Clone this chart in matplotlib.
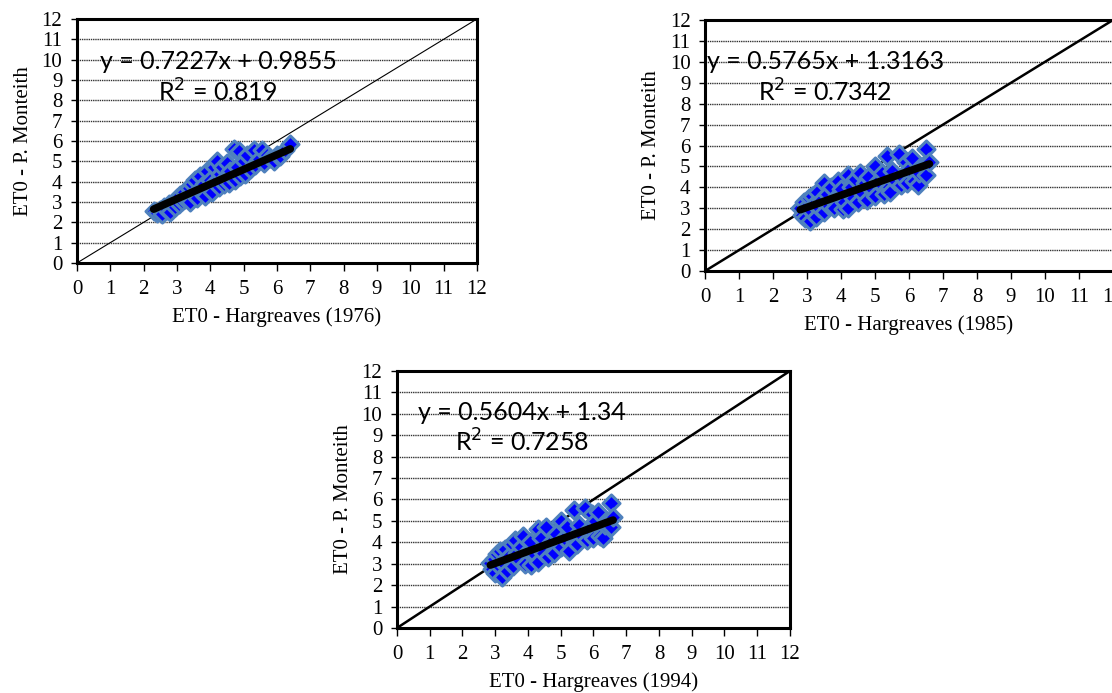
import numpy as np
import matplotlib.pyplot as plt

# ET0 points (Hargreaves x, Penman-Monteith y)
x_1976 = [2.3, 2.4, 2.5, 2.55, 2.6, 2.7, 2.75, 2.8, 2.9, 2.95, 3.0, 3.05, 3.1, 3.15, 3.2, 3.25,
          3.3, 3.35, 3.4, 3.45, 3.5, 3.55, 3.6, 3.65, 3.7, 3.75, 3.8, 3.85, 3.9, 3.95, 4.0, 4.05,
          4.1, 4.15, 4.2, 4.25, 4.3, 4.35, 4.4, 4.45, 4.5, 4.55, 4.6, 4.7, 4.75, 4.8, 4.85, 4.9,
          5.0, 5.05, 5.1, 5.2, 5.3, 5.35, 5.45, 5.55, 5.6, 5.7, 5.8, 5.9, 6.0, 6.1, 6.25, 6.4]
y_1976 = [2.55, 2.45, 2.6, 2.4, 2.75, 2.6, 2.9, 2.5, 3.0, 2.75, 3.2, 2.9, 3.35, 3.05, 3.5, 3.15,
          3.3, 3.7, 3.0, 3.9, 3.4, 4.1, 3.2, 3.6, 4.3, 3.5, 3.9, 3.3, 4.5, 3.7, 4.1, 3.5,
          4.7, 4.0, 5.0, 3.75, 4.4, 4.7, 3.9, 4.2, 4.9, 3.95, 4.5, 5.6, 4.1, 4.7, 5.5, 4.3,
          5.0, 4.4, 5.3, 4.6, 5.55, 4.8, 5.1, 5.55, 4.9, 5.3, 5.15, 5.0, 5.3, 5.25, 5.55, 5.85]

x_1985 = [2.8, 2.85, 2.9, 2.95, 3.0, 3.05, 3.1, 3.1, 3.15, 3.2, 3.25, 3.3, 3.35, 3.4, 3.5, 3.5,
          3.6, 3.65, 3.7, 3.75, 3.8, 3.9, 3.95, 4.0, 4.05, 4.1, 4.2, 4.2, 4.3, 4.35, 4.4, 4.5,
          4.55, 4.6, 4.7, 4.75, 4.8, 4.9, 5.0, 5.0, 5.1, 5.2, 5.25, 5.35, 5.4, 5.45, 5.5, 5.6,
          5.7, 5.75, 5.8, 5.9, 5.95, 6.0, 6.1, 6.15, 6.25, 6.3, 6.4, 6.5, 6.5, 6.6]
y_1985 = [3.0, 2.7, 3.3, 2.55, 3.1, 3.5, 2.4, 2.9, 3.6, 3.2, 2.6, 3.8, 3.0, 3.4, 4.2, 2.8,
          3.7, 3.1, 4.0, 3.4, 3.0, 4.3, 3.6, 3.9, 2.95, 3.3, 4.6, 3.0, 4.0, 3.5, 4.4, 3.3,
          4.7, 3.8, 4.2, 3.4, 4.5, 3.9, 5.0, 3.6, 4.3, 4.7, 3.7, 5.5, 4.0, 3.8, 4.8, 4.3,
          5.6, 4.1, 4.5, 5.2, 4.2, 4.9, 5.4, 4.3, 4.1, 4.7, 5.0, 5.85, 4.6, 5.2]

x_1994 = [2.85, 2.9, 2.95, 3.0, 3.05, 3.1, 3.15, 3.2, 3.2, 3.3, 3.35, 3.4, 3.5, 3.55, 3.6, 3.65,
          3.7, 3.8, 3.85, 3.9, 4.0, 4.05, 4.1, 4.2, 4.3, 4.3, 4.4, 4.45, 4.55, 4.6, 4.7, 4.8,
          4.85, 5.0, 5.0, 5.1, 5.2, 5.25, 5.4, 5.45, 5.5, 5.55, 5.65, 5.75, 5.8, 5.85, 5.95, 6.0,
          6.05, 6.15, 6.2, 6.3, 6.35, 6.45, 6.55, 6.55, 6.6]
y_1994 = [3.05, 2.75, 3.2, 2.55, 3.45, 2.9, 3.6, 2.4, 3.1, 3.7, 2.65, 3.3, 3.9, 2.9, 4.1, 3.5,
          3.2, 3.8, 4.3, 3.0, 3.6, 4.0, 2.95, 3.4, 4.6, 3.1, 4.2, 3.5, 4.7, 3.3, 4.0, 3.5,
          4.4, 5.0, 3.8, 4.2, 4.7, 3.6, 5.5, 4.0, 3.9, 4.8, 4.3, 5.6, 4.1, 4.6, 5.3, 4.2,
          5.0, 5.4, 4.3, 4.2, 4.8, 5.0, 5.85, 4.7, 5.2]

x_labels = ['ET0 - Hargreaves (1976)', 'ET0 - Hargreaves (1985)', 'ET0 - Hargreaves (1994)']
y_label = 'ET0 - P. Monteith'

# linear trend reported on each panel
slopes = [0.7227, 0.5765, 0.5604]
intercepts = [0.9855, 1.3163, 1.34]
eq_texts = ['y = 0.7227x + 0.9855', 'y = 0.5765x + 1.3163', 'y = 0.5604x + 1.34']
r2_texts = ['R$^2$ = 0.819', 'R$^2$ = 0.7342', 'R$^2$ = 0.7258']

ticks = list(range(0, 13))

plt.rcParams['font.family'] = ['Liberation Serif', 'DejaVu Serif']

fig = plt.figure(figsize=(11.12, 6.93), dpi=100)

rects = [
    [0.0692, 0.6205, 0.3597, 0.3521],
    [0.6340, 0.6089, 0.3669, 0.3622],
    [0.3570, 0.0938, 0.3534, 0.3709],
]
diag_lw = [0.8, 1.8, 1.8]
eq_pos = [(4.23, 9.9, 8.4), (3.54, 10.0, 8.55), (3.83, 10.08, 8.68)]

xs = [x_1976, x_1985, x_1994]
ys = [y_1976, y_1985, y_1994]

for i in range(3):
    ax = fig.add_axes(rects[i])
    ax.set_xlim(0, 12)
    ax.set_ylim(0, 12)
    ax.set_xticks(ticks)
    ax.set_yticks(ticks)
    ax.tick_params(direction='out', width=1, labelsize=15, colors='black')
    ax.tick_params(axis='x', length=5.8, pad=6.5)
    ax.tick_params(axis='y', length=4.5, pad=6)
    for s in ax.spines.values():
        s.set_linewidth(2.2)
        s.set_color('black')
    for t in ticks[1:-1]:
        ax.axhline(t, color='#333333', lw=1.0, ls=(0, (1, 0.6)), zorder=1)

    # 1:1 line
    ax.plot([0, 12], [0, 12], color='black', lw=diag_lw[i], zorder=2)

    ax.scatter(xs[i], ys[i], marker='D', s=75, facecolor='#0000FF', edgecolor='#4F81BD',
               linewidth=2.2, zorder=3)

    xt = np.array([min(xs[i]), max(xs[i])])
    ax.plot(xt, slopes[i] * xt + intercepts[i], color='black', lw=5.5,
            solid_capstyle='round', zorder=4)

    cx, y1, y2 = eq_pos[i]
    ax.text(cx, y1, eq_texts[i], ha='center', va='center', fontsize=18, family='Lato', zorder=5)
    ax.text(cx, y2, r2_texts[i], ha='center', va='center', fontsize=18, family='Lato', zorder=5)

    ax.set_xlabel(x_labels[i], fontsize=15, labelpad=6)
    ax.set_ylabel(y_label, fontsize=15, labelpad=6)

fig.savefig('out.png', dpi=100)
